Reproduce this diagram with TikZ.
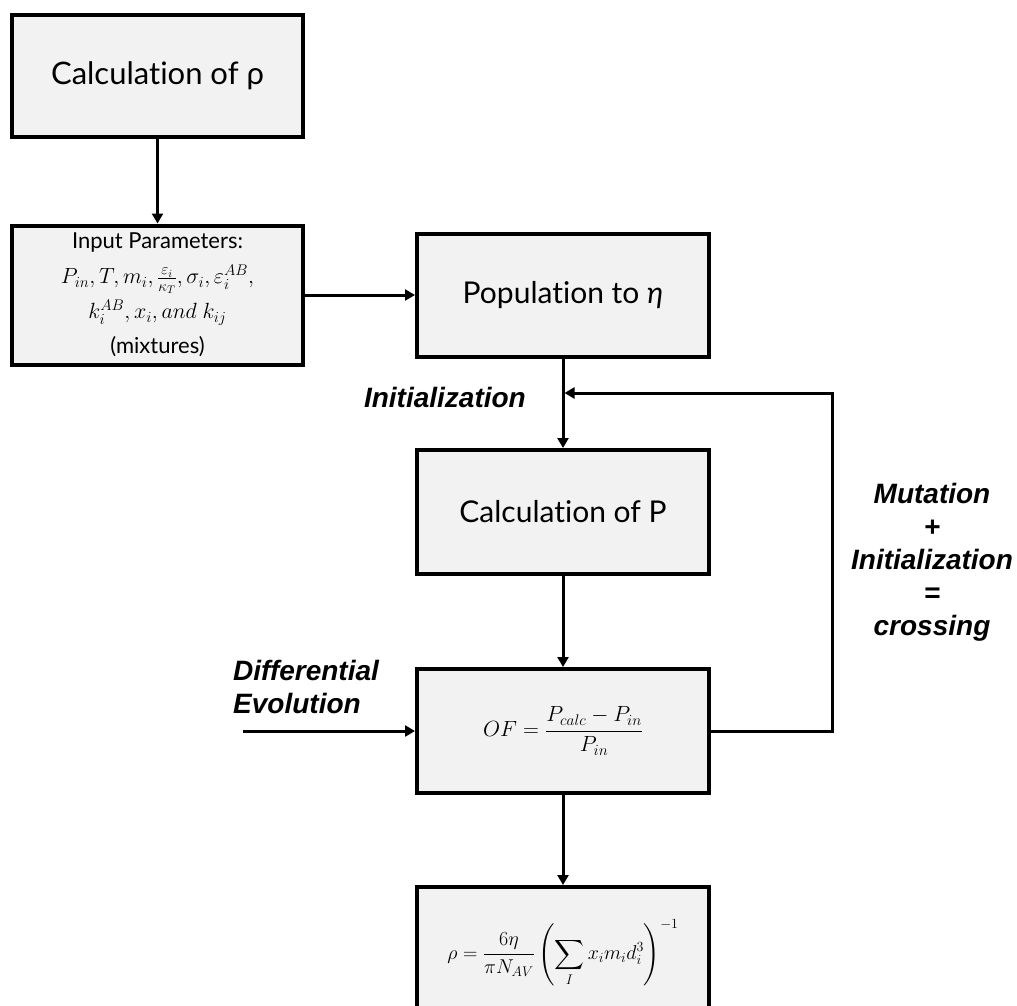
\RequirePackage{fix-cm}
\documentclass[tikz,border=0pt]{standalone}
\usepackage{amsmath}
\usepackage[no-math]{fontspec}
\setmainfont[Ligatures=NoCommon]{Lato}
\newfontfamily\labelfont{Liberation Sans}
\usetikzlibrary{arrows.meta}
\definecolor{boxfill}{RGB}{242,242,242}
\begin{document}
\begin{tikzpicture}[x=1pt,y=-1pt,
  box/.style={draw=black, line width=4pt, fill=boxfill, minimum width=292pt,
    inner sep=0pt, align=center, font=\fontsize{30}{36}\selectfont},
  link/.style={line width=3pt, -{Triangle[length=10pt,width=11pt]}},
  lab/.style={font=\labelfont\bfseries\itshape\fontsize{28}{33}\selectfont, inner sep=0pt}]
\useasboundingbox (0,0) rectangle (1017,1006);
\clip (0,0) rectangle (1017,1006);

% process boxes
\node[box, minimum width=291pt, minimum height=122pt, font=\fontsize{31}{36}\selectfont] (calcrho) at (157.5,76) {Calculation of ρ};
\node[box, minimum width=291pt, minimum height=139pt, font=\fontsize{22}{35}\selectfont] (input) at (157.5,295)
  {Input Parameters:\\
   $P_{in}, T, m_i, \frac{\varepsilon_i}{\kappa_T}, \sigma_i, \varepsilon_i^{AB},$\\
   $k_i^{AB}, x_i, and\ k_{ij}$\\
   (mixtures)};
\node[box, minimum height=123pt] (pop) at (563,295.5) {Population to {\itshape η}};
\node[box, minimum height=124pt] (calcP) at (563,512) {Calculation of P};
\node[box, minimum height=124pt, font=\fontsize{22}{26}\selectfont] (of) at (563,731)
  {$OF = \dfrac{P_{calc} - P_{in}}{P_{in}}$};
\node[box, minimum height=132pt, font=\fontsize{20}{24}\selectfont] (rho) at (563,953)
  {$\displaystyle \rho = \frac{6\eta}{\pi N_{AV}}\left(\sum_{I} x_i m_i d_i^3\right)^{-1}$};

% free ends of connectors
\coordinate (loop) at (832,393);
\coordinate (despring) at (243,731);

% connectors
\draw[link] (calcrho.south) -- (input.north);
\draw[link] (input.east) -- (input.east -| pop.west);
\draw[link] (pop.south) -- (calcP.north);
\draw[link] (calcP.south) -- (of.north);
\draw[link] (of.south) -- (rho.north);
\draw[link] (despring) -- (of.west);
\draw[link, shorten >=1.5pt] (of.east) -| (loop) -- (loop -| pop.south);

% labels
\node[lab, anchor=east] (initlab) at (526,397) {Initialization};
\node[lab, anchor=north west, align=left] (delab) at (233,660) {Differential\\Evolution};
\node[lab, align=center] (mutlab) at (932,562) {Mutation\\+\\Initialization\\=\\crossing};
\end{tikzpicture}
\end{document}
